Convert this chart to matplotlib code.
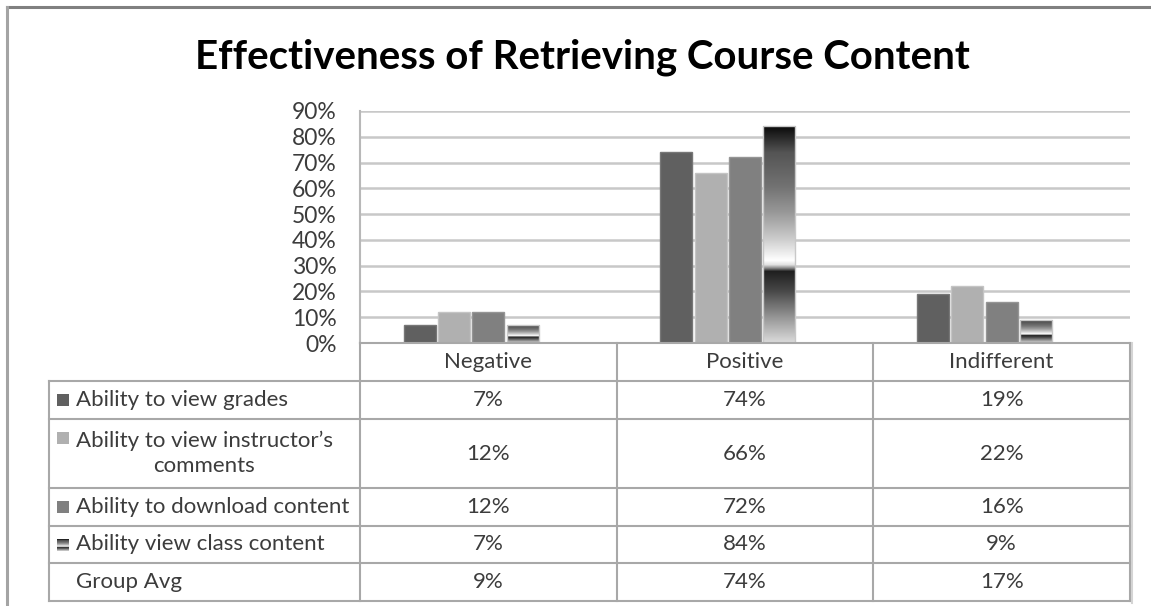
import numpy as np
import matplotlib.pyplot as plt
from matplotlib.patches import Rectangle
from matplotlib.colors import LinearSegmentedColormap

plt.rcParams['font.family'] = ['Lato', 'DejaVu Sans']

categories = ['Negative', 'Positive', 'Indifferent']
series_names = ['Ability to view grades',
                'Ability to view instructor\u2019s\ncomments',
                'Ability to download content',
                'Ability view class content',
                'Group Avg']
grades = [7, 74, 19]
instructor = [12, 66, 22]
download = [12, 72, 16]
class_content = [7, 84, 9]
group_avg = [9, 74, 17]
yticks = [0, 10, 20, 30, 40, 50, 60, 70, 80, 90]

series = [grades, instructor, download, class_content, group_avg]
fills = ['#606060', '#b0b0b0', '#808080', None, None]
edges = ['#777777', '#c4c4c4', '#959595', '#c8c8c8', None]

# banded grey gradient used by the "class content" series (bottom -> top)
stops = [(0.0, 0.86), (0.12, 0.58), (0.24, 0.28), (0.33, 0.12), (0.345, 0.55),
         (0.36, 0.88), (0.38, 1.0), (0.48, 0.8), (0.6, 0.6), (0.72, 0.45),
         (0.88, 0.33), (1.0, 0.04)]
band = LinearSegmentedColormap.from_list('band', [(p, (g, g, g)) for p, g in stops])
grad = np.linspace(0, 1, 256).reshape(-1, 1)

W, H = 1151, 606
L, R, B, T = 360, 1130, 343, 111
fig = plt.figure(figsize=(W / 100, H / 100), dpi=100)
ax = fig.add_axes([L / W, 1 - B / H, (R - L) / W, (B - T) / H])

x = np.arange(len(categories))
step, width = 0.134, 0.125
for i, vals in enumerate(series):
    if i == 4:
        continue  # Group Avg only keeps its slot
    xs = x + (i - 2) * step
    if fills[i] is not None:
        ax.bar(xs, vals, width, color=fills[i], edgecolor=edges[i], linewidth=1, zorder=3)
    else:
        bars = ax.bar(xs, vals, width, color='none', edgecolor=edges[i], linewidth=1, zorder=4)
        for b in bars:
            im = ax.imshow(grad, cmap=band, origin='lower', aspect='auto', zorder=3,
                           extent=[b.get_x(), b.get_x() + b.get_width(), 0, b.get_height()])
            im.set_clip_path(b)

ax.set_xlim(-0.5, 2.5)
ax.set_ylim(0, 90)
ax.set_yticks(yticks)
ax.set_yticklabels(['{}%'.format(t) for t in yticks])
ax.set_xticks([])
ax.tick_params(axis='y', length=0, pad=17, labelsize=16.5, labelcolor='#3c3c3c')
ax.yaxis.grid(True, color='#c8c8c8', linewidth=1.8)
ax.set_axisbelow(True)
for s in ['top', 'right', 'bottom']:
    ax.spines[s].set_visible(False)
ax.spines['left'].set_color('#b8b8b8')
ax.spines['left'].set_linewidth(1.5)

# overlay in pixel units for title, frame and data table
lay = fig.add_axes([0, 0, 1, 1])
lay.set_xlim(0, W)
lay.set_ylim(H, 0)
lay.axis('off')

lay.plot([7, W], [7, 7], color='#808080', lw=2.2)
lay.plot([7, 7], [7, H], color='#a4a4a4', lw=2.2)

lay.text(582, 69, 'Effectiveness of Retrieving Course Content', ha='center', va='baseline',
         fontsize=29, fontweight='bold', color='#000000')

tc = '#3c3c3c'
lc = '#a8a8a8'
fs = 16
col_edges = np.linspace(L, R, len(categories) + 1)
rows = [343, 381, 419, 488, 526, 563, 601]
tab_left = 49

for xe in col_edges:
    lay.plot([xe, xe], [rows[0], rows[-1]], color=lc, lw=1.5)
lay.plot([R + 2, R + 2], [rows[0], rows[-1] + 2], color='#d4d4d4', lw=1.5)
lay.plot([tab_left, tab_left], [rows[1], rows[-1]], color=lc, lw=1.5)
lay.plot([L, R], [rows[0], rows[0]], color=lc, lw=1.5)
for ye in rows[1:]:
    lay.plot([tab_left, R], [ye, ye], color=lc, lw=1.5)

centers = (col_edges[:-1] + col_edges[1:]) / 2
for c, name in zip(centers, categories):
    lay.text(c, (rows[0] + rows[1]) / 2, name, ha='center', va='center', fontsize=fs, color=tc)

for i, (name, vals) in enumerate(zip(series_names, series)):
    y0, y1 = rows[i + 1], rows[i + 2]
    ym = (y0 + y1) / 2
    for c, v in zip(centers, vals):
        lay.text(c, ym, '{}%'.format(v), ha='center', va='center', fontsize=fs, color=tc)
    lay.text(76, ym, name, ha='left', va='center', fontsize=fs, color=tc,
             multialignment='center', linespacing=1.35)
    ky = y0 + 19
    if i < 3:
        lay.add_patch(Rectangle((57, ky - 6), 12, 12, facecolor=fills[i], edgecolor='none'))
    elif i == 3:
        key = Rectangle((57, ky - 6), 12, 12, facecolor='none', edgecolor='none')
        lay.add_patch(key)
        im = lay.imshow(grad, cmap=band, origin='lower', aspect='auto',
                        extent=[57, 69, ky + 6, ky - 6])
        im.set_clip_path(key)

lay.set_xlim(0, W)
lay.set_ylim(H, 0)

fig.savefig('out.png', dpi=100)
